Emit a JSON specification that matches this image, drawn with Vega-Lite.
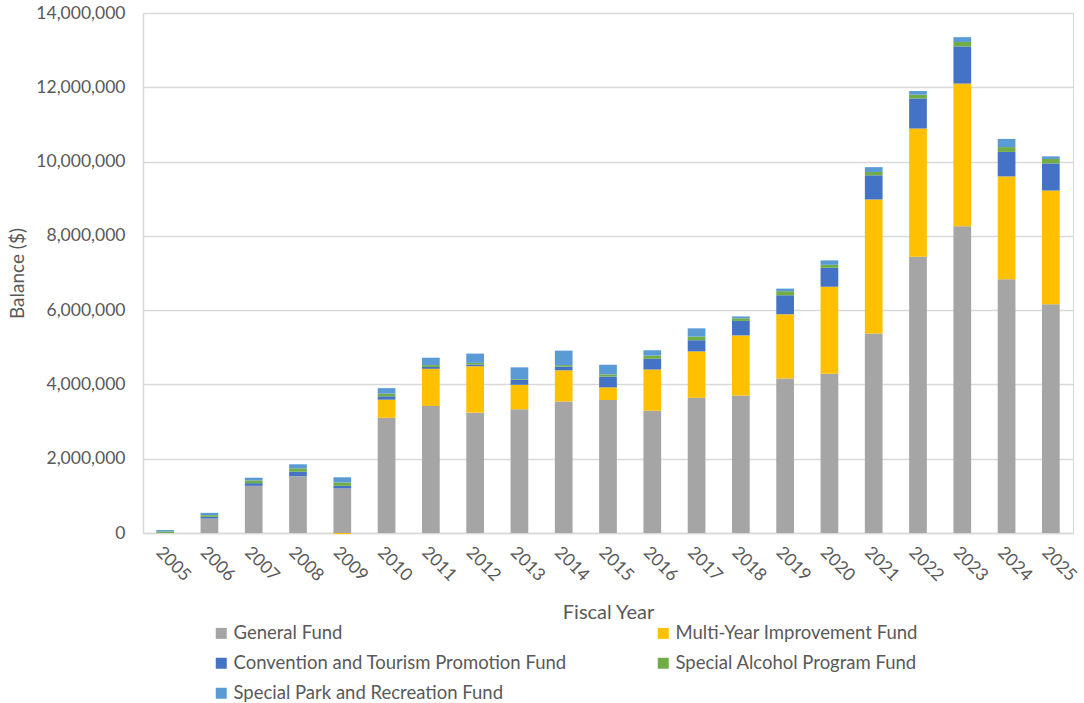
{
  "$schema": "https://vega.github.io/schema/vega-lite/v6.json",
  "width": 930,
  "height": 520,
  "autosize": {"type": "none"},
  "padding": {"left": 143, "top": 13, "right": 11, "bottom": 170},
  "background": "white",
  "config": {
    "font": "Lato",
    "view": {"stroke": "#d9d9d9", "strokeWidth": 1},
    "axis": {"labelColor": "#595959", "titleColor": "#595959", "labelFont": "Lato", "titleFont": "Lato", "titleFontWeight": "normal"},
    "legend": {"labelColor": "#595959", "labelFont": "Lato"}
  },
  "data": {
    "values": [
      {"year": "2005", "fund": "General Fund", "value": 0},
      {"year": "2005", "fund": "Multi-Year Improvement Fund", "value": 0},
      {"year": "2005", "fund": "Convention and Tourism Promotion Fund", "value": 0},
      {"year": "2005", "fund": "Special Alcohol Program Fund", "value": 40000},
      {"year": "2005", "fund": "Special Park and Recreation Fund", "value": 40000},
      {"year": "2006", "fund": "General Fund", "value": 390000},
      {"year": "2006", "fund": "Multi-Year Improvement Fund", "value": 0},
      {"year": "2006", "fund": "Convention and Tourism Promotion Fund", "value": 45000},
      {"year": "2006", "fund": "Special Alcohol Program Fund", "value": 45000},
      {"year": "2006", "fund": "Special Park and Recreation Fund", "value": 63000},
      {"year": "2007", "fund": "General Fund", "value": 1270000},
      {"year": "2007", "fund": "Multi-Year Improvement Fund", "value": 0},
      {"year": "2007", "fund": "Convention and Tourism Promotion Fund", "value": 72000},
      {"year": "2007", "fund": "Special Alcohol Program Fund", "value": 72000},
      {"year": "2007", "fund": "Special Park and Recreation Fund", "value": 75000},
      {"year": "2008", "fund": "General Fund", "value": 1530000},
      {"year": "2008", "fund": "Multi-Year Improvement Fund", "value": 0},
      {"year": "2008", "fund": "Convention and Tourism Promotion Fund", "value": 120000},
      {"year": "2008", "fund": "Special Alcohol Program Fund", "value": 90000},
      {"year": "2008", "fund": "Special Park and Recreation Fund", "value": 110000},
      {"year": "2009", "fund": "General Fund", "value": 1200000},
      {"year": "2009", "fund": "Multi-Year Improvement Fund", "value": -30000},
      {"year": "2009", "fund": "Convention and Tourism Promotion Fund", "value": 70000},
      {"year": "2009", "fund": "Special Alcohol Program Fund", "value": 90000},
      {"year": "2009", "fund": "Special Park and Recreation Fund", "value": 140000},
      {"year": "2010", "fund": "General Fund", "value": 3100000},
      {"year": "2010", "fund": "Multi-Year Improvement Fund", "value": 490000},
      {"year": "2010", "fund": "Convention and Tourism Promotion Fund", "value": 90000},
      {"year": "2010", "fund": "Special Alcohol Program Fund", "value": 70000},
      {"year": "2010", "fund": "Special Park and Recreation Fund", "value": 150000},
      {"year": "2011", "fund": "General Fund", "value": 3420000},
      {"year": "2011", "fund": "Multi-Year Improvement Fund", "value": 1000000},
      {"year": "2011", "fund": "Convention and Tourism Promotion Fund", "value": 50000},
      {"year": "2011", "fund": "Special Alcohol Program Fund", "value": 50000},
      {"year": "2011", "fund": "Special Park and Recreation Fund", "value": 200000},
      {"year": "2012", "fund": "General Fund", "value": 3240000},
      {"year": "2012", "fund": "Multi-Year Improvement Fund", "value": 1250000},
      {"year": "2012", "fund": "Convention and Tourism Promotion Fund", "value": 45000},
      {"year": "2012", "fund": "Special Alcohol Program Fund", "value": 45000},
      {"year": "2012", "fund": "Special Park and Recreation Fund", "value": 250000},
      {"year": "2013", "fund": "General Fund", "value": 3330000},
      {"year": "2013", "fund": "Multi-Year Improvement Fund", "value": 660000},
      {"year": "2013", "fund": "Convention and Tourism Promotion Fund", "value": 130000},
      {"year": "2013", "fund": "Special Alcohol Program Fund", "value": 20000},
      {"year": "2013", "fund": "Special Park and Recreation Fund", "value": 320000},
      {"year": "2014", "fund": "General Fund", "value": 3540000},
      {"year": "2014", "fund": "Multi-Year Improvement Fund", "value": 840000},
      {"year": "2014", "fund": "Convention and Tourism Promotion Fund", "value": 100000},
      {"year": "2014", "fund": "Special Alcohol Program Fund", "value": 40000},
      {"year": "2014", "fund": "Special Park and Recreation Fund", "value": 390000},
      {"year": "2015", "fund": "General Fund", "value": 3580000},
      {"year": "2015", "fund": "Multi-Year Improvement Fund", "value": 340000},
      {"year": "2015", "fund": "Convention and Tourism Promotion Fund", "value": 290000},
      {"year": "2015", "fund": "Special Alcohol Program Fund", "value": 60000},
      {"year": "2015", "fund": "Special Park and Recreation Fund", "value": 260000},
      {"year": "2016", "fund": "General Fund", "value": 3290000},
      {"year": "2016", "fund": "Multi-Year Improvement Fund", "value": 1110000},
      {"year": "2016", "fund": "Convention and Tourism Promotion Fund", "value": 290000},
      {"year": "2016", "fund": "Special Alcohol Program Fund", "value": 90000},
      {"year": "2016", "fund": "Special Park and Recreation Fund", "value": 140000},
      {"year": "2017", "fund": "General Fund", "value": 3640000},
      {"year": "2017", "fund": "Multi-Year Improvement Fund", "value": 1250000},
      {"year": "2017", "fund": "Convention and Tourism Promotion Fund", "value": 300000},
      {"year": "2017", "fund": "Special Alcohol Program Fund", "value": 100000},
      {"year": "2017", "fund": "Special Park and Recreation Fund", "value": 220000},
      {"year": "2018", "fund": "General Fund", "value": 3700000},
      {"year": "2018", "fund": "Multi-Year Improvement Fund", "value": 1620000},
      {"year": "2018", "fund": "Convention and Tourism Promotion Fund", "value": 390000},
      {"year": "2018", "fund": "Special Alcohol Program Fund", "value": 70000},
      {"year": "2018", "fund": "Special Park and Recreation Fund", "value": 50000},
      {"year": "2019", "fund": "General Fund", "value": 4160000},
      {"year": "2019", "fund": "Multi-Year Improvement Fund", "value": 1730000},
      {"year": "2019", "fund": "Convention and Tourism Promotion Fund", "value": 510000},
      {"year": "2019", "fund": "Special Alcohol Program Fund", "value": 110000},
      {"year": "2019", "fund": "Special Park and Recreation Fund", "value": 70000},
      {"year": "2020", "fund": "General Fund", "value": 4290000},
      {"year": "2020", "fund": "Multi-Year Improvement Fund", "value": 2340000},
      {"year": "2020", "fund": "Convention and Tourism Promotion Fund", "value": 510000},
      {"year": "2020", "fund": "Special Alcohol Program Fund", "value": 80000},
      {"year": "2020", "fund": "Special Park and Recreation Fund", "value": 120000},
      {"year": "2021", "fund": "General Fund", "value": 5370000},
      {"year": "2021", "fund": "Multi-Year Improvement Fund", "value": 3610000},
      {"year": "2021", "fund": "Convention and Tourism Promotion Fund", "value": 650000},
      {"year": "2021", "fund": "Special Alcohol Program Fund", "value": 90000},
      {"year": "2021", "fund": "Special Park and Recreation Fund", "value": 130000},
      {"year": "2022", "fund": "General Fund", "value": 7440000},
      {"year": "2022", "fund": "Multi-Year Improvement Fund", "value": 3450000},
      {"year": "2022", "fund": "Convention and Tourism Promotion Fund", "value": 810000},
      {"year": "2022", "fund": "Special Alcohol Program Fund", "value": 100000},
      {"year": "2022", "fund": "Special Park and Recreation Fund", "value": 100000},
      {"year": "2023", "fund": "General Fund", "value": 8260000},
      {"year": "2023", "fund": "Multi-Year Improvement Fund", "value": 3840000},
      {"year": "2023", "fund": "Convention and Tourism Promotion Fund", "value": 1000000},
      {"year": "2023", "fund": "Special Alcohol Program Fund", "value": 120000},
      {"year": "2023", "fund": "Special Park and Recreation Fund", "value": 130000},
      {"year": "2024", "fund": "General Fund", "value": 6830000},
      {"year": "2024", "fund": "Multi-Year Improvement Fund", "value": 2770000},
      {"year": "2024", "fund": "Convention and Tourism Promotion Fund", "value": 660000},
      {"year": "2024", "fund": "Special Alcohol Program Fund", "value": 130000},
      {"year": "2024", "fund": "Special Park and Recreation Fund", "value": 220000},
      {"year": "2025", "fund": "General Fund", "value": 6160000},
      {"year": "2025", "fund": "Multi-Year Improvement Fund", "value": 3060000},
      {"year": "2025", "fund": "Convention and Tourism Promotion Fund", "value": 730000},
      {"year": "2025", "fund": "Special Alcohol Program Fund", "value": 120000},
      {"year": "2025", "fund": "Special Park and Recreation Fund", "value": 70000}
    ]
  },
  "mark": {"type": "bar"},
  "encoding": {
    "x": {
      "field": "year", "type": "ordinal",
      "scale": {"paddingInner": 0.6, "paddingOuter": 0.3},
      "axis": {
        "title": "Fiscal Year", "titleFontSize": 20, "titlePadding": 18,
        "labelAngle": 45, "labelFontSize": 17.5, "labelPadding": 10,
        "ticks": false, "domainColor": "#d9d9d9", "domainWidth": 1.5, "grid": false
      }
    },
    "y": {
      "field": "value", "type": "quantitative", "stack": "zero",
      "scale": {"domain": [0, 14000000], "nice": false},
      "axis": {
        "title": "Balance ($)", "titleFontSize": 19, "titlePadding": 8,
        "values": [0, 2000000, 4000000, 6000000, 8000000, 10000000, 12000000, 14000000],
        "format": ",d", "labelFontSize": 17.5, "labelPadding": 18,
        "ticks": false, "domainColor": "#d9d9d9", "domainWidth": 1.5,
        "gridColor": "#d9d9d9", "gridWidth": 1.5
      }
    },
    "color": {
      "field": "fund", "type": "nominal",
      "scale": {
        "domain": ["General Fund", "Multi-Year Improvement Fund", "Convention and Tourism Promotion Fund", "Special Alcohol Program Fund", "Special Park and Recreation Fund"],
        "range": ["#A5A5A5", "#FFC000", "#4472C4", "#70AD47", "#5B9BD5"]
      },
      "legend": {
        "title": null, "orient": "none", "legendX": 69, "legendY": 611,
        "direction": "horizontal", "columns": 2, "columnPadding": 87, "rowPadding": 11,
        "symbolType": "square", "symbolSize": 121, "symbolStrokeWidth": 0,
        "labelFontSize": 18.5, "labelOffset": 3, "labelLimit": 500
      }
    },
    "order": {"field": "fund_order", "type": "quantitative"}
  },
  "transform": [
    {"calculate": "indexof(['General Fund','Multi-Year Improvement Fund','Convention and Tourism Promotion Fund','Special Alcohol Program Fund','Special Park and Recreation Fund'], datum.fund)", "as": "fund_order"}
  ]
}
